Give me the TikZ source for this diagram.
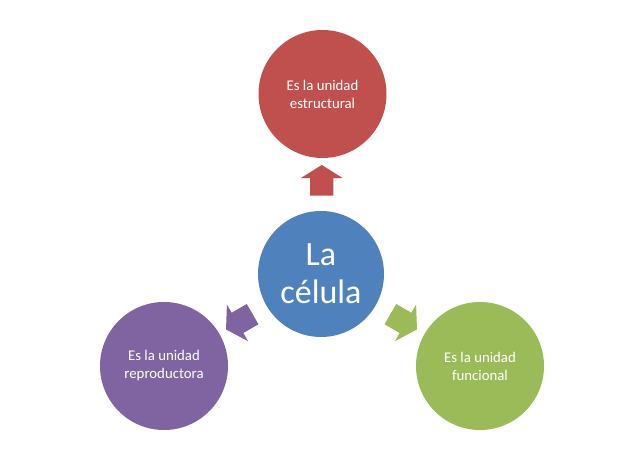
\documentclass[tikz,border=0pt]{standalone}
\usepackage{fontspec}
\setmainfont{Carlito}
\usetikzlibrary{shapes.arrows, calc}

\definecolor{rojo}{HTML}{C0504D}
\definecolor{azul}{HTML}{4F81BD}
\definecolor{verde}{HTML}{9BBB59}
\definecolor{morado}{HTML}{8064A2}

\tikzset{
    idea/.style={circle, minimum size=128pt, inner sep=0pt, text=white, align=center,
        font=\fontsize{14.8}{18}\selectfont},
    flecha/.style={single arrow, inner sep=11.5pt, minimum height=27pt,
        single arrow head extend=9.5pt, single arrow tip angle=116}
}

\begin{document}
\begin{tikzpicture}[x=1pt, y=1pt]
    \useasboundingbox (0,0) rectangle (638,452);
    \node[idea, fill=azul, minimum size=126pt, font=\fontsize{34}{38}\selectfont] (cel) at (321,178) {La\\célula};
    \node[idea, fill=rojo] (est) at (322.5,358) {Es la unidad\\estructural};
    \node[idea, fill=morado] (rep) at (164,86) {Es la unidad\\reproductora};
    \node[idea, fill=verde] (fun) at (480,86) {Es la unidad\\funcional};
    % flechas entre la celula y cada idea
    \node[flecha, fill=rojo, rotate=90] (f1) at ($(cel)!0.5!(est)$) {};
    \node[flecha, fill=morado, rotate=210] (f2) at ($(cel)!0.5!(rep)$) {};
    \node[flecha, fill=verde, rotate=330] (f3) at ($(cel)!0.5!(fun)$) {};
\end{tikzpicture}
\end{document}
